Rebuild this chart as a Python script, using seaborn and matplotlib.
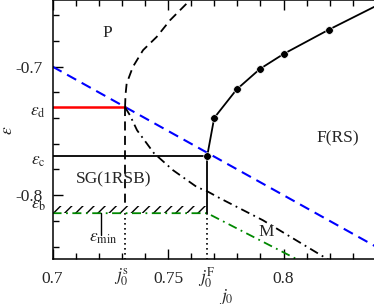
# phase diagram, epsilon vs j0
import numpy as np
import pandas as pd
import matplotlib.pyplot as plt
import matplotlib.transforms as mtransforms
import seaborn as sns

sns.set_style("ticks")
plt.rcParams["font.family"] = ["Liberation Serif", "DejaVu Serif"]
plt.rcParams["mathtext.fontset"] = "stix"
plt.rcParams["hatch.linewidth"] = 1.0

# special points
j0_s, eps_d = 0.7314, -0.7316
j0_F, eps_c = 0.7670, -0.7692
eps_b = -0.8085
eps_min = -0.8140

# blue dashed line (eps = -j0)
blue_j = [0.70, 0.84]
blue_eps = [-0.70, -0.84]

# F(RS) boundary with computed points
f_j = [0.7670, 0.7700, 0.7797, 0.7898, 0.8001, 0.8197, 0.8392]
f_eps = [-0.7692, -0.7399, -0.7178, -0.7018, -0.6901, -0.6712, -0.6536]
f_dots = 6

# P spinodal (dashed)
sp_j = [0.7314, 0.7316, 0.7321, 0.7348, 0.7392, 0.7451, 0.7509, 0.7595]
sp_eps = [-0.7316, -0.7220, -0.7131, -0.7002, -0.6872, -0.6769, -0.6639, -0.6484]

# M line (dash-dot)
m_j = [0.7314, 0.7335, 0.7366, 0.7439, 0.7522, 0.7626, 0.7669, 0.7725, 0.7911, 0.8193]
m_eps = [-0.7316, -0.7378, -0.7495, -0.7673, -0.7806, -0.7938, -0.7969, -0.8024, -0.8195, -0.8500]

# green dash-dot
g_j = [0.70, j0_F, 0.8060]
g_eps = [eps_min, eps_min, -0.8500]

fig = plt.figure(figsize=(3.74, 3.04), dpi=100)
ax = fig.add_axes([0.1404, 0.1464, 0.8647, 0.8524])

fs = 12.5
lw = 1.3

def line(x, y, **kw):
    d = pd.DataFrame({"j": x, "e": y})
    sns.lineplot(data=d, x="j", y="e", sort=False, estimator=None, ax=ax, **kw)

line(blue_j, blue_eps, color="#0000ff", lw=1.5, linestyle=(0, (5, 3)))
line([0.70, j0_s], [eps_d, eps_d], color="#ff0000", lw=1.8)
line([0.70, j0_F], [eps_c, eps_c], color="black", lw=lw)
line(sp_j, sp_eps, color="black", lw=lw, linestyle=(0, (5, 3)))
line([j0_s, j0_s], [eps_d, eps_b], color="black", lw=lw, linestyle=(0, (5, 3)))
line([j0_s, j0_s], [eps_min, -0.85], color="black", lw=1.2, linestyle=(0, (1, 2)))
line([j0_F, j0_F], [eps_min, -0.85], color="black", lw=1.2, linestyle=(0, (1, 2)))
line(m_j, m_eps, color="black", lw=lw, linestyle=(0, (5, 2.5, 1, 2.5)))
line(g_j, g_eps, color="#008800", lw=lw, linestyle=(0, (5, 2.5, 1, 2.5)))
line([j0_F, j0_F], [eps_c, eps_min], color="black", lw=lw)
line(f_j, f_eps, color="black", lw=lw)
sns.scatterplot(x=f_j[:f_dots], y=f_eps[:f_dots], color="black", s=30, zorder=5, ax=ax)

# hatched band between eps_min and eps_b
ax.fill_between([0.70, j0_F], eps_min, eps_b, facecolor="none",
                edgecolor="black", hatch="///", linewidth=0)

# eps_min pointer
ax.plot([0.7210, 0.7210], [eps_min, -0.8310], color="black", lw=1.0)

ax.set_xlim(0.70, 0.84)
ax.set_ylim(-0.85, -0.6485)

ax.set_xticks([0.70, 0.75, 0.80], ["0.7", "0.75", "0.8"])
ax.set_xticks(np.arange(0.70, 0.845, 0.01), minor=True)
ax.set_yticks([-0.70, -0.80], ["-0.7", "-0.8"])
ax.set_yticks(np.arange(-0.84, -0.649, 0.02), minor=True)
ax.tick_params(which="both", direction="in", top=True, right=False,
               width=1.0, labelsize=fs, color="black")
ax.tick_params(which="major", length=7)
ax.tick_params(which="minor", length=4.5)
ax.tick_params(axis="x", which="major", pad=8)
ax.tick_params(axis="y", which="major", pad=7)
for s in ax.spines.values():
    s.set_linewidth(1.1)
    s.set_color("black")

# extra tick labels
xt = mtransforms.blended_transform_factory(ax.transData, ax.transAxes)
yt = mtransforms.blended_transform_factory(ax.transAxes, ax.transData)
ax.text(j0_s - 0.0017, -0.068, r"$j_0^{\rm s}$", transform=xt, ha="center", va="center", fontsize=fs)
ax.text(j0_F, -0.068, r"$j_0^{\rm F}$", transform=xt, ha="center", va="center", fontsize=fs)
ax.text(-0.02, eps_d - 0.004, r"$\varepsilon_{\rm d}$", transform=yt, ha="right", va="center", fontsize=fs)
ax.text(-0.02, eps_c - 0.004, r"$\varepsilon_{\rm c}$", transform=yt, ha="right", va="center", fontsize=fs)
ax.text(-0.02, eps_b + 0.0005, r"$\varepsilon_{\rm b}$", transform=yt, ha="right", va="center", fontsize=fs)

ax.set_xlabel(r"$j_0$", fontsize=fs)
ax.xaxis.set_label_coords(0.538, -0.108)
ax.set_ylabel(r"$\varepsilon$", fontsize=fs)
ax.yaxis.set_label_coords(-0.112, 0.5)

# region labels
ax.text(0.7236, -0.6740, "P", fontsize=fs, ha="center", va="center")
ax.text(0.8237, -0.7559, "F(RS)", fontsize=fs, ha="center", va="center")
ax.text(0.7266, -0.7880, "SG(1RSB)", fontsize=fs, ha="center", va="center")
ax.text(0.7927, -0.8285, "M", fontsize=fs, ha="center", va="center")
ax.text(0.7219, -0.8336, r"$\varepsilon_{\rm min}$", fontsize=fs, ha="center", va="center")

plt.savefig("out.png", dpi=100)
